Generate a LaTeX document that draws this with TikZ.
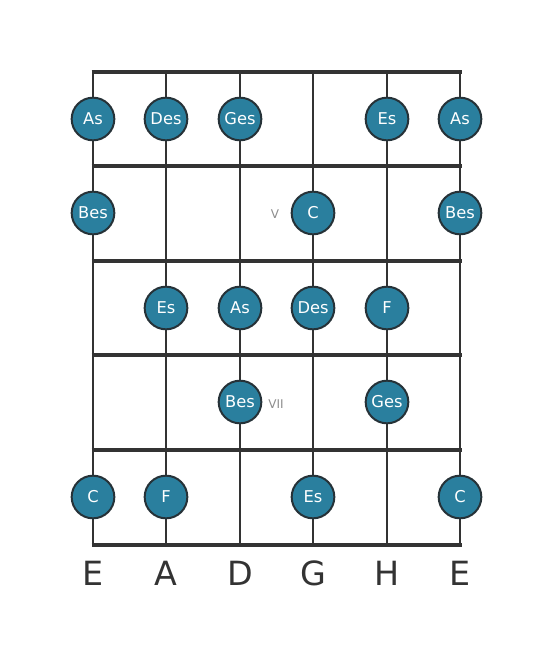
\documentclass[tikz,border=0pt]{standalone}
\usepackage{fontspec}
\setmainfont{DejaVu Sans}
\definecolor{linec}{HTML}{333333}
\definecolor{notefill}{HTML}{2A7F9E}
\definecolor{noteedge}{HTML}{263238}
\begin{document}
\begin{tikzpicture}[x=0.75pt,y=-0.75pt,
  stringline/.style={draw=linec,line width=1.9pt},
  fretline/.style={draw=linec,line width=3.6pt},
  note/.style={circle,fill=notefill,draw=noteedge,line width=1.5pt,minimum size=32pt,inner sep=0pt,text=white,font=\fontsize{12.2}{13}\selectfont},
  fretmark/.style={text=gray!90,font=\fontsize{9}{10}\selectfont},
  strname/.style={text=linec,font=\fontsize{25}{27}\selectfont}]
\useasboundingbox (0,0) rectangle (553,656);
\foreach \x/\n in {93/s1,166/s2,240/s3,313/s4,387/s5,460/s6}{
  \coordinate (\n t) at (\x,72);
  \coordinate (\n b) at (\x,545);
  \draw[stringline] (\n t) -- (\n b);
}
\foreach \y/\n in {72/f0,166/f1,261/f2,355/f3,450/f4,545/f5}{
  \coordinate (\n l) at (91.5,\y);
  \coordinate (\n r) at (461.5,\y);
  \draw[fretline] (\n l) -- (\n r);
}
% row 1
\node[note] (n11) at (93,119) {As};
\node[note] (n12) at (166,119) {Des};
\node[note] (n13) at (240,119) {Ges};
\node[note] (n15) at (387,119) {Es};
\node[note] (n16) at (460,119) {As};
% row 2
\node[note] (n21) at (93,213) {Bes};
\node[note] (n24) at (313,213) {C};
\node[note] (n26) at (460,213) {Bes};
\node[fretmark] (p5) at (275,214) {V};
% row 3
\node[note] (n32) at (166,308) {Es};
\node[note] (n33) at (240,308) {As};
\node[note] (n34) at (313,308) {Des};
\node[note] (n35) at (387,308) {F};
% row 4
\node[note] (n43) at (240,402) {Bes};
\node[note] (n45) at (387,402) {Ges};
\node[fretmark] (p7) at (276,404) {VII};
% row 5
\node[note] (n51) at (93,497) {C};
\node[note] (n52) at (166,497) {F};
\node[note] (n54) at (313,497) {Es};
\node[note] (n56) at (460,497) {C};
% string names
\node[strname] (l1) at (93,573) {E};
\node[strname] (l2) at (166,573) {A};
\node[strname] (l3) at (240,573) {D};
\node[strname] (l4) at (313,573) {G};
\node[strname] (l5) at (387,573) {H};
\node[strname] (l6) at (460,573) {E};
\end{tikzpicture}
\end{document}
